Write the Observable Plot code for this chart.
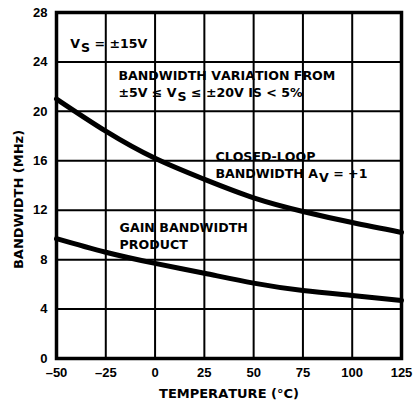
<!DOCTYPE html>
<html>
<head>
<meta charset="utf-8">
<script src="https://cdn.jsdelivr.net/npm/d3@7"></script>
<script src="https://cdn.jsdelivr.net/npm/@observablehq/plot@0.6"></script>
<style>
  html, body { margin: 0; padding: 0; background: #fff; }
  svg text { font-kerning: none; }
</style>
</head>
<body>
<div id="chart"></div>
<script>
const temps = [-50, -25, 0, 25, 50, 75, 100, 125];
const closedLoop = [21.0, 18.4, 16.2, 14.5, 13.0, 11.9, 11.0, 10.2];
const gainBandwidth = [9.7, 8.6, 7.7, 6.9, 6.1, 5.5, 5.1, 4.7];
const xTicks = [-50, -25, 0, 25, 50, 75, 100, 125];
const yTicks = [0, 4, 8, 12, 16, 20, 24, 28];
const xLabel = "TEMPERATURE (°C)";
const yLabel = "BANDWIDTH (MHz)";

const notes = [
  {x: -43, y: 25.6, text: "V_S = ±15V"},
  {x: -18.6, y: 22.3, text: "BANDWIDTH VARIATION FROM\n±5V ≤ V_S ≤ ±20V IS < 5%"},
  {x: 30.6, y: 15.7, text: "CLOSED-LOOP\nBANDWIDTH A_V = +1"},
  {x: -18, y: 10.0, text: "GAIN BANDWIDTH\nPRODUCT"}
];

const cl = temps.map((t, i) => ({t, v: closedLoop[i]}));
const gb = temps.map((t, i) => ({t, v: gainBandwidth[i]}));
const xg = xTicks.map(v => ({v}));
const yg = yTicks.map(v => ({v}));

const fmt = d => d < 0 ? "–" + Math.abs(d) : String(d);
const ann = "'DejaVu Sans', sans-serif";

const svg = Plot.plot({
  width: 414,
  height: 402,
  marginLeft: 56,
  marginRight: 13,
  marginTop: 12,
  marginBottom: 44,
  style: {fontFamily: "'Liberation Sans', Arial, sans-serif", fontWeight: "bold", fontSize: "13px", color: "#000", background: "#fff"},
  x: {domain: [-50, 125], ticks: xTicks, tickFormat: fmt, tickSize: 0, tickPadding: 9, label: null},
  y: {domain: [0, 28], ticks: yTicks, tickSize: 0, tickPadding: 9, label: null},
  marks: [
    Plot.ruleX(xg, {x: "v", stroke: "black", strokeWidth: 2}),
    Plot.ruleY(yg, {y: "v", stroke: "black", strokeWidth: 2}),
    Plot.text(notes, {x: "x", y: "y", text: "text", textAnchor: "start", lineAnchor: "middle", lineHeight: 1.35, fill: "#000", fontSize: 12.6, fontFamily: ann, fontWeight: "bold", ariaLabel: "notes"}),
    Plot.line(cl, {x: "t", y: "v", stroke: "#000", strokeWidth: 5, curve: "natural"}),
    Plot.line(gb, {x: "t", y: "v", stroke: "#000", strokeWidth: 5, curve: "natural"}),
    Plot.frame({stroke: "#000", strokeWidth: 3.5}),
    Plot.text([yLabel], {frameAnchor: "left", text: d => d, rotate: -90, textAnchor: "middle", lineAnchor: "middle", dx: -38, dy: 14, fontSize: 13, fontFamily: ann, fontWeight: "bold", fill: "#000"}),
    Plot.text([xLabel], {frameAnchor: "bottom", text: d => d, dy: 39, fontSize: 13, fontFamily: ann, fontWeight: "bold", fill: "#000"})
  ]
});

// subscripts: X_Y -> X with subscript Y
const walker = document.createTreeWalker(svg, NodeFilter.SHOW_TEXT);
const nodes = [];
while (walker.nextNode()) if (walker.currentNode.nodeValue.includes("_")) nodes.push(walker.currentNode);
const NS = "http://www.w3.org/2000/svg";
for (const n of nodes) {
  const parts = n.nodeValue.split(/_(\w)/);
  const frag = document.createDocumentFragment();
  parts.forEach((p, i) => {
    if (i % 2 === 0) {
      if (p) frag.appendChild(document.createTextNode(p));
    } else {
      const s = document.createElementNS(NS, "tspan");
      s.setAttribute("baseline-shift", "-30%");
      s.setAttribute("dx", "1");
      s.textContent = p;
      frag.appendChild(s);
    }
  });
  n.parentNode.replaceChild(frag, n);
}

document.getElementById("chart").appendChild(svg);

// white boxes behind the annotations (break the grid like the original)
const noteGroup = svg.querySelector('g[aria-label="notes"]');
if (noteGroup) {
  const boxes = document.createElementNS(NS, "g");
  const svgRect = svg.getBoundingClientRect();
  for (const t of noteGroup.querySelectorAll("text")) {
    const r = t.getBoundingClientRect();
    const rect = document.createElementNS(NS, "rect");
    rect.setAttribute("x", r.left - svgRect.left - 6);
    rect.setAttribute("y", r.top - svgRect.top - 3);
    rect.setAttribute("width", r.width + 12);
    rect.setAttribute("height", r.height + 6);
    rect.setAttribute("fill", "#fff");
    boxes.appendChild(rect);
  }
  noteGroup.parentNode.insertBefore(boxes, noteGroup);
}
</script>
</body>
</html>
